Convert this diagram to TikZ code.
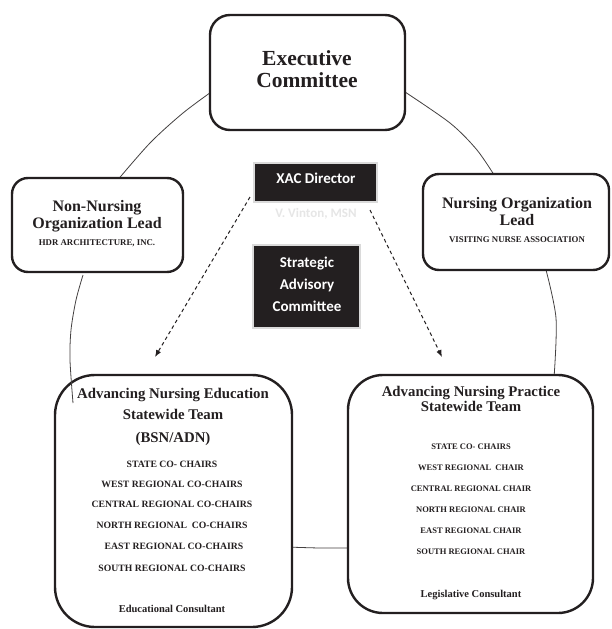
\documentclass[tikz,border=0pt]{standalone}
\usepackage{fontspec}
\setmainfont{Liberation Serif}
\newfontfamily\carl{Carlito}
\usetikzlibrary{arrows.meta}
\definecolor{ink}{HTML}{231F20}
\definecolor{bevel}{HTML}{DADADA}
\definecolor{faint}{HTML}{E6E6E6}
\begin{document}
\begin{tikzpicture}[x=1pt,y=-1pt,
  box/.style={draw=ink, line width=2.4pt, fill=white, rounded corners=#1, inner sep=0pt},
  darkbox/.style={draw=bevel, line width=2.6pt, fill=ink, inner sep=0pt},
  ring/.style={draw=ink!85, line width=0.8pt},
  dasharrow/.style={draw=ink, line width=1pt, dash pattern=on 3.5pt off 3pt, -{Latex[length=7pt,width=5.5pt]}},
  txt/.style={anchor=base, inner sep=0pt, text=ink},
  big/.style={txt, font=\bfseries\fontsize{21.5}{24}\selectfont},
  mid/.style={txt, font=\bfseries\fontsize{16}{18}\selectfont},
  title/.style={txt, font=\bfseries\fontsize{14.8}{17}\selectfont},
  caps/.style={txt, font=\bfseries\fontsize{8.8}{10}\selectfont},
  ecaps/.style={txt, font=\bfseries\fontsize{9.7}{11}\selectfont},
  pcaps/.style={txt, font=\bfseries\fontsize{8.5}{10}\selectfont},
  cons/.style={txt, font=\bfseries\fontsize{10.5}{12}\selectfont},
  sans/.style={txt, font=\carl\bfseries\fontsize{15}{17}\selectfont, text=white},
]
\useasboundingbox (0,0) rectangle (611,629);
\fill[white] (0,0) rectangle (611,629);

% ring segments behind boxes
\draw[ring] plot[smooth] coordinates {(214,90) (183,113) (150,143) (116,182)};
\draw[ring] plot[smooth] coordinates {(402,90) (450,123) (477,150) (496,178)};
\draw[ring] plot[smooth] coordinates {(545,266) (556,318) (554,378)};
\draw[ring] plot[smooth] coordinates {(286,547) (320,548) (352,548)};

% boxes
\node[box=20pt, minimum width=195pt, minimum height=115pt] (exec) at (307.5,72.5) {};
\node[box=16pt, minimum width=171pt, minimum height=94pt] (nonnurs) at (97.5,225) {};
\node[box=16pt, minimum width=186pt, minimum height=96pt] (nurs) at (516,222) {};
\node[box=40pt, minimum width=237pt, minimum height=252pt] (edu) at (173.5,501) {};
\node[box=35pt, minimum width=245pt, minimum height=238pt] (prac) at (470.5,494) {};
\node[darkbox, minimum width=123pt, minimum height=39pt] (xac) at (315.5,182.5) {};
\node[darkbox, minimum width=107pt, minimum height=83pt] (sac) at (306.5,286.5) {};

% left ring segment (drawn over the education box)
\draw[ring] plot[smooth] coordinates {(83,275) (76,300) (71,330) (70,360) (73,403)};

% texts
\node[big] (e1) at (307,65) {Executive};
\node[big] (e2) at (307,87.5) {Committee};

\node[mid] (n1) at (97,211) {Non-Nursing};
\node[mid] (n2) at (97,228.5) {Organization Lead};
\node[caps] (n3) at (97,245) {HDR ARCHITECTURE, INC.};

\node[mid] (o1) at (517,208) {Nursing Organization};
\node[mid] (o2) at (517,225) {Lead};
\node[caps] (o3) at (517,242) {VISITING NURSE ASSOCIATION};

\node[sans] (x1) at (316,183.5) {XAC Director};
\node[txt, font=\carl\bfseries\fontsize{13}{15}\selectfont, text=faint] (x2) at (316,217) {V. Vinton, MSN};

\node[sans] (s1) at (307,267) {Strategic};
\node[sans] (s2) at (307,289) {Advisory};
\node[sans] (s3) at (307,311) {Committee};

\node[title] (a1) at (173,398) {Advancing Nursing Education};
\node[title] (a2) at (173,419.5) {Statewide Team};
\node[title] (a3) at (173,442) {(BSN/ADN)};
\node[ecaps] (a4) at (172,467) {STATE CO- CHAIRS};
\node[ecaps] (a5) at (172,487.5) {WEST REGIONAL CO-CHAIRS};
\node[ecaps] (a6) at (172,507.5) {CENTRAL REGIONAL CO-CHAIRS};
\node[ecaps] (a7) at (172,528.5) {NORTH REGIONAL\ \ CO-CHAIRS};
\node[ecaps] (a8) at (174,549.5) {EAST REGIONAL CO-CHAIRS};
\node[ecaps] (a9) at (172,571) {SOUTH REGIONAL CO-CHAIRS};
\node[cons] (a10) at (172,612) {Educational Consultant};

\node[title] (p1) at (471,396) {Advancing Nursing Practice};
\node[title] (p2) at (471,411) {Statewide Team};
\node[pcaps] (p3) at (471,449) {STATE CO- CHAIRS};
\node[pcaps] (p4) at (471,470) {WEST REGIONAL\ \ CHAIR};
\node[pcaps] (p5) at (471,491) {CENTRAL REGIONAL CHAIR};
\node[pcaps] (p6) at (471,512) {NORTH REGIONAL CHAIR};
\node[pcaps] (p7) at (471,533) {EAST REGIONAL CHAIR};
\node[pcaps] (p8) at (471,554) {SOUTH REGIONAL CHAIR};
\node[cons] (p9) at (471,597) {Legislative Consultant};

% dashed arrows
\coordinate (la) at (250,197);
\coordinate (lb) at (155,357);
\coordinate (ra) at (370,210);
\coordinate (rb) at (442,357);
\draw[dasharrow] (la) -- (lb);
\draw[dasharrow] (ra) -- (rb);
\end{tikzpicture}
\end{document}
